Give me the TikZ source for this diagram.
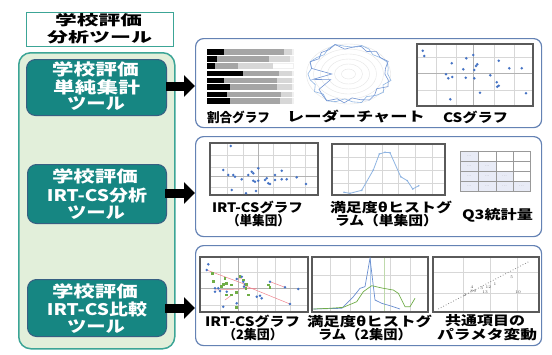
\documentclass[tikz,border=0pt]{standalone}
\usepackage{fontspec}
\usepackage{graphicx}
\newfontfamily\jp{Noto Sans CJK JP}
\usetikzlibrary{arrows.meta}
\definecolor{tealedge}{RGB}{60,165,150}
\definecolor{greenbg}{RGB}{226,239,218}
\definecolor{tealc}{RGB}{22,134,130}
\definecolor{boxedge}{RGB}{55,95,130}
\definecolor{panelc}{RGB}{100,130,180}
\definecolor{frameg}{RGB}{90,90,90}
\definecolor{gridc}{RGB}{215,215,215}
\definecolor{dotblue}{RGB}{68,114,196}
\definecolor{lightblue}{RGB}{142,180,226}
\definecolor{dotgreen}{RGB}{112,173,71}
\definecolor{pinkl}{RGB}{240,130,140}
\definecolor{barg}{RGB}{165,165,165}
\definecolor{barl}{RGB}{215,215,215}
\definecolor{barw}{RGB}{240,240,240}
\definecolor{lav}{RGB}{232,235,246}
\newcommand{\fw}[2]{\resizebox{#1pt}{\height}{#2}}
\tikzset{
 lab/.style={inner sep=0pt, font=\jp\bfseries\fontsize{13}{13}\selectfont},
 wlab/.style={inner sep=0pt, text=white, font=\jp\bfseries\fontsize{16}{16}\selectfont},
 tlab/.style={inner sep=0pt, font=\jp\bfseries\fontsize{14}{14}\selectfont},
 panel/.style={draw=panelc, line width=1.2pt, rounded corners=8pt, anchor=north west, inner sep=0pt},
 toolbox/.style={draw=boxedge, fill=tealc, line width=1pt, rounded corners=9pt, anchor=north west, inner sep=0pt, minimum width=139pt},
 chartframe/.style={draw=frameg, line width=1.1pt},
 gridl/.style={draw=gridc, line width=0.3pt},
 axisl/.style={draw=black!30, line width=0.5pt},
 bigarrow/.style={line width=9pt, -{Triangle[length=11pt,width=21pt]}, black},
 tiny/.style={inner sep=0pt, text=black!55, font=\fontsize{4}{4}\selectfont},
}
\begin{document}
\begin{tikzpicture}[x=1pt,y=-1pt]
\useasboundingbox (0,0) rectangle (552,354);
\fill[white] (0,0) rectangle (552,354);

% left side
\node[draw=tealedge, fill=greenbg, line width=1.5pt, rounded corners=12pt, anchor=north west, minimum width=156pt, minimum height=296pt, inner sep=0pt] (outer) at (18,52) {};
\node[draw=tealedge, fill=white, line width=1.2pt, anchor=north west, minimum width=147pt, minimum height=34pt, inner sep=0pt] (title) at (26,12) {};
\node[tlab] (t1) at (98.5,20) {\fw{87}{学校評価}};
\node[tlab] (t2) at (99.5,37) {\fw{105}{分析ツール}};

\node[toolbox, minimum width=140pt, minimum height=56pt] (b1) at (26,59) {};
\node[toolbox, minimum height=59pt] (b2) at (27,164) {};
\node[toolbox, minimum height=57pt] (b3) at (27,279) {};

\node[wlab] (b1a) at (95.5,69) {\fw{87}{学校評価}};
\node[wlab] (b1b) at (96.5,87) {\fw{87}{単純集計}};
\node[wlab] (b1c) at (96,104) {\fw{58}{ツール}};
\node[wlab] (b2a) at (95,176) {\fw{86}{学校評価}};
\node[wlab] (b2b) at (97,195) {\fw{100}{IRT-CS分析}};
\node[wlab] (b2c) at (96,213) {\fw{58}{ツール}};
\node[wlab] (b3a) at (95,291) {\fw{86}{学校評価}};
\node[wlab] (b3b) at (97,309) {\fw{100}{IRT-CS比較}};
\node[wlab] (b3c) at (96,327) {\fw{58}{ツール}};

% panels
\node[panel, minimum width=346pt, minimum height=89pt] (p1) at (195,38) {};
\node[panel, minimum width=346pt, minimum height=100pt] (p2) at (195,136) {};
\node[panel, minimum width=346pt, minimum height=100pt] (p3) at (195,245) {};

% arrows
\coordinate (e1) at (166,86);
\coordinate (e2) at (165,193);
\coordinate (e3) at (165,308);
\draw[bigarrow] (e1) -- (e1 -| p1.west);
\draw[bigarrow] (e2) -- (e2 -| p2.west);
\draw[bigarrow] (e3) -- (e3 -| p3.west);

% ---- panel 1: bar chart
\foreach \yy/\sa/\sb/\sc/\sd in {49.3/224/284.3/291.7/294, 56/217.3/269.3/290/294, 63.3/215/238.3/273.3/294, 70.7/243.3/279.3/291.7/294, 77.7/224/277.3/291.7/294, 84.3/230/277.3/291.7/294, 91.7/227.3/280.7/291.7/294, 98.3/230/280/291.7/294}{
 \fill[black] (207.3,\yy) rectangle (\sa,\yy+5.6);
 \fill[barg] (\sa,\yy) rectangle (\sb,\yy+5.6);
 \fill[barl] (\sb,\yy) rectangle (\sc,\yy+5.6);
 \fill[barw] (\sc,\yy) rectangle (\sd,\yy+5.6);
}
\fill[white] (273.3,64) rectangle (293.3,68.2);
% radar chart
\begin{scope}[shift={(348.5,74)}, xscale=1.4]
\foreach \r in {5,10,15,20,25,30}{\draw[black!10, line width=0.4pt] (0,0) circle (\r pt);}
\draw[lightblue, line width=0.6pt] plot coordinates {(0:28) (12:31) (24:27) (36:31) (48:29) (60:26) (72:30) (84:28) (96:25) (108:29) (120:31) (132:27) (144:30) (156:26) (168:28) (180:29) (192:27) (204:30) (216:28) (228:26) (240:29) (252:31) (264:28) (276:27) (288:30) (300:29) (312:26) (324:28) (336:30) (348:29)} -- cycle;
\draw[dotblue!75, line width=0.6pt] plot coordinates {(0:26) (12:29) (24:31) (36:25) (48:28) (60:30) (72:27) (84:24) (96:29) (108:26) (120:31) (132:28) (144:26) (156:14) (168:26) (180:12) (192:27) (204:30) (216:26) (228:29) (240:28) (252:31) (264:25) (276:27) (288:29) (300:26) (312:30) (324:28) (336:31) (348:27)} -- cycle;
\end{scope}
% CS graph
\foreach \x in {436,456,494,514}{\draw[gridl] (\x,44) -- (\x,106);}
\foreach \y in {57,90}{\draw[gridl] (417,\y) -- (533,\y);}
\draw[axisl] (473,44) -- (473,106);
\draw[axisl] (417,73) -- (533,73);
\draw[chartframe] (417,44) rectangle (533,106);
\foreach \p in {(422.7,50.7),(424.3,56),(451.7,63.3),(466.3,58.3),(473.3,55),(498.7,60.7),(477.3,64.3),(476,66),(463.3,69.3),(474.3,70),(509.3,68.3),(521.7,68.3),(446,74.3),(448.3,78.3),(452.3,77),(465.7,77.7),(474.3,78.3),(490.3,75.3),(496.7,82.3),(498.7,85.7),(497.3,86.7),(480,92.7),(526,93.3),(450.3,99.3)}{\fill[dotblue] \p circle (1.4pt);}

\node[lab] (l11) at (238.5,117) {\fw{63}{割合グラフ}};
\node[lab] (l12) at (356,117) {\fw{138}{レーダーチャート}};
\node[lab] (l13) at (475.5,117) {\fw{65}{CSグラフ}};

% ---- panel 2: IRT-CS graph
\foreach \x in {226.7,243.3,273.3,290,305}{\draw[gridl] (\x,143) -- (\x,195);}
\foreach \y in {155,166.7,186.7}{\draw[gridl] (210,\y) -- (318,\y);}
\draw[axisl] (258.3,143) -- (258.3,195);
\draw[axisl] (210,176.7) -- (318,176.7);
\draw[chartframe] (210,143) rectangle (318,195);
\foreach \p in {(230.7,146),(223.3,170),(228.3,175),(233.3,175),(235,176.7),(241.7,179.3),(248.3,175),(251.7,171.7),(253.3,173.3),(258.3,168.3),(253.3,180.7),(255,181.7),(258.3,180.7),(265,180),(268.3,183.3),(270,184),(266.7,178.3),(275,175),(275,180),(281.7,170.7),(281.7,179.3),(286.7,179.3),(296.7,177.3),(306,184),(231.7,190),(246,193.3),(256,191)}{\fill[dotblue] \p circle (1.4pt);}
% histogram single
\foreach \x in {348.3,365,381.7,398.3,415,431.7}{\draw[gridl] (\x,144) -- (\x,195);}
\foreach \y in {156.7,170,183.3}{\draw[gridl] (332,\y) -- (445,\y);}
\draw[chartframe] (332,144) rectangle (445,195);
\draw[lightblue, line width=0.8pt] plot coordinates {(344,192.3) (350,193.3) (361.7,190.3) (373.3,170) (379.3,154) (385,152.3) (390,152.7) (400.7,176.7) (407.3,180.7) (412.7,189) (418.7,185.7)};
\foreach \p in {(344,192.3),(350,193.3),(361.7,190.3),(373.3,170),(379.3,154),(385,152.3),(390,152.7),(400.7,176.7),(407.3,180.7),(412.7,189),(418.7,185.7)}{\fill[lightblue] \p circle (0.9pt);}
% Q3 table
\foreach \i/\ya/\yb in {1/151.7/161.7,2/161.7/171.7,3/171.7/181.7,4/181.7/191.7}{
 \foreach \j/\xa/\xb in {1/460/478.3,2/478.3/496,3/496/513.3,4/513.3/530}{
  \ifnum\j>\i\relax
   \draw[black!40, line width=0.5pt, fill=white] (\xa,\ya) rectangle (\xb,\yb);
  \else
   \draw[black!40, line width=0.5pt, fill=lav] (\xa,\ya) rectangle (\xb,\yb);
   \node[tiny] (q\i\j) at ({(\xa+\xb)/2},{(\ya+\yb)/2}) {...};
  \fi
 }
}
\node[lab] (l21) at (257.5,207) {\fw{91}{IRT-CSグラフ}};
\node[lab] (l22) at (258.5,221) {\fw{63}{（単集団）}};
\node[lab] (l23) at (391,207) {\fw{122}{満足度θヒストグ}};
\node[lab] (l24) at (386.5,221) {\fw{103}{ラム（単集団）}};
\node[lab] (l25) at (497.5,215) {\fw{71}{Q3統計量}};

% ---- panel 3: IRT-CS 2 groups
\foreach \x in {220,238.3,256.7,275,290}{\draw[gridl] (\x,257) -- (\x,312);}
\foreach \y in {271.7,305}{\draw[gridl] (200,\y) -- (308,\y);}
\draw[axisl] (238.3,257) -- (238.3,312);
\draw[axisl] (200,288.3) -- (308,288.3);
\draw[chartframe] (200,257) rectangle (308,312);
\draw[pinkl, line width=0.5pt] (206.7,270) -- (245,284.3);
\draw[pinkl, line width=0.5pt] (236.7,279) -- (241.7,278.7);
\draw[pinkl, line width=0.5pt] (270,281.7) -- (285,287.3);
\draw[pinkl, line width=0.5pt] (243.3,285) -- (290,304);
\draw[pinkl, line width=0.5pt] (215,290) -- (256.7,288.3);
\draw[pinkl, line width=0.5pt] (225,300) -- (231.7,295);
\foreach \p in {(208.3,264.3),(206.7,270),(215,288.3),(215,291.7),(220,291),(236.7,279),(241.7,276.7),(243.3,281.7),(245,284.3),(244,286.7),(270,281.7),(285,287.3),(298.3,289),(256.7,296.7),(261.7,298.3),(260,295.7),(236.7,303.3),(223.3,306.7),(290,304),(226.7,291.7),(218.3,288.3)}{\fill[dotblue] \p circle (1.4pt);}
\foreach \px/\py in {212.7/273.3,225/278.3,223.3/284.3,226.7/283.3,221.7/286.7,231.7/285,240/276.7,243.3/280,246.7/284.3,246/288.3,226.7/295,231.7/295,236.7/292.3,248.3/295,270/287.7,268.3/285,236.7/307.7,213.3/281.7}{\fill[dotgreen] (\px-1.3,\py-1.3) rectangle (\px+1.3,\py+1.3);}
% histogram two groups
\foreach \x in {330,350,390,410}{\draw[gridl] (\x,257) -- (\x,312);}
\foreach \y in {275,293}{\draw[gridl] (312,\y) -- (428,\y);}
\draw[lightblue!70, line width=0.5pt] (370,257) -- (370,312);
\draw[dotgreen!45, line width=0.5pt] (384,257) -- (384,312);
\draw[chartframe] (312,257) rectangle (428,312);
\draw[dotblue!80, line width=0.7pt] plot coordinates {(313.3,309) (341.7,308.3) (353.3,296.7) (360,288.3) (365,286.7) (370,258.3) (375,300) (381.7,303.3) (390,305.7) (400,309)};
\draw[dotgreen, line width=0.7pt] plot coordinates {(313.3,309) (330,308.3) (343.3,307.3) (356.7,301.7) (363.3,291.7) (371.7,285.7) (383.3,288.3) (393.3,290) (398.3,293.3) (405,306.7) (410,306.7) (415,298.3)};
% parameter change
\foreach \x in {463,490,517}{\draw[gridl] (\x,257) -- (\x,312);}
\foreach \y in {271.7,293.3}{\draw[gridl] (433,\y) -- (539,\y);}
\draw[chartframe] (433,257) rectangle (539,312);
\draw[black!45, line width=0.8pt, dotted] (438.3,309) -- (530,261);
\foreach \n/\px/\py in {5/511.7/277.7,1/495/284.3,12/488.3/286.7,3/481.7/288.3,10/518/292.7,13/485/292.3,9/475/291.7,8/471.7/291,2/465/295,4/472/287}{\node[tiny, text=black!70] (n\n) at (\px,\py) {\n};}

\node[lab] (l31) at (252.5,321) {\fw{95}{IRT-CSグラフ}};
\node[lab] (l32) at (253,335) {\fw{60}{（2集団）}};
\node[lab] (l33) at (369.5,321) {\fw{125}{満足度θヒストグ}};
\node[lab] (l34) at (365,335) {\fw{94}{ラム（2集団）}};
\node[lab] (l35) at (485,321) {\fw{80}{共通項目の}};
\node[lab] (l36) at (487,335) {\fw{100}{パラメタ変動}};
\end{tikzpicture}
\end{document}
